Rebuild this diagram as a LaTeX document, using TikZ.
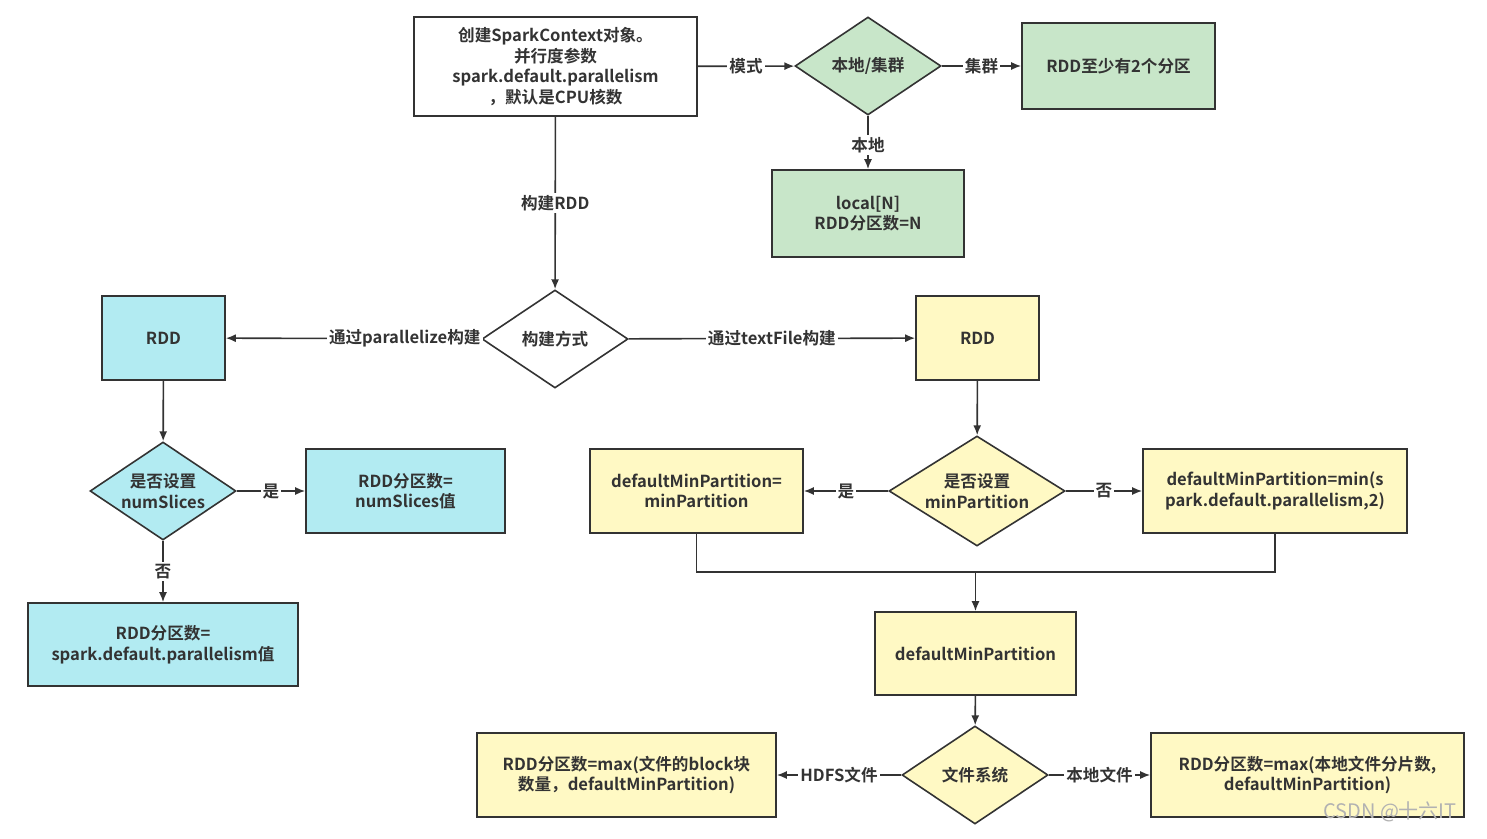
\documentclass[tikz,border=0pt]{standalone}
\usepackage{fontspec}
\setmainfont{Noto Sans CJK SC}[BoldFont={* Bold}]
\usetikzlibrary{shapes.geometric,arrows.meta}
\definecolor{gfill}{HTML}{C8E6C9}
\definecolor{cfill}{HTML}{B2EBF2}
\definecolor{yfill}{HTML}{FFF9C4}
\definecolor{ln}{HTML}{333333}
\begin{document}
\begin{tikzpicture}[x=0.5pt,y=-0.5pt,
  every node/.style={font=\fontsize{8.3}{10.3}\selectfont\bfseries, text=ln},
  box/.style={draw=ln, line width=0.8pt, rectangle, align=center, inner sep=0pt},
  dia/.style={draw=ln, line width=0.8pt, diamond, aspect=1.5, align=center, inner sep=-4pt},
  edge/.style={draw=ln, line width=0.8pt, -{Latex[length=5pt,width=4pt]}},
  lab/.style={fill=white, inner sep=1pt}]
\useasboundingbox (0,0) rectangle (1487,839);
\fill[white] (0,0) rectangle (1487,839);
% top
\node[box,fill=white,minimum width=141.5pt,minimum height=49.5pt] (top) at (555.5,66.5) {创建SparkContext对象。\\并行度参数\\spark.default.parallelism\\，默认是CPU核数};
\node[dia,fill=gfill,minimum width=73pt,minimum height=49pt] (mode) at (868,66) {本地/集群};
\node[box,fill=gfill,minimum width=96.5pt,minimum height=43pt] (clu) at (1118.5,66) {RDD至少有2个分区};
\node[box,fill=gfill,minimum width=96pt,minimum height=43.5pt] (loc) at (868,213.5) {local[N]\\RDD分区数=N};
% build
\node[dia,fill=white,minimum width=73pt,minimum height=49pt] (how) at (555,339) {构建方式};
\node[box,fill=cfill,minimum width=61.5pt,minimum height=42pt] (rddc) at (163.5,338) {RDD};
\node[box,fill=yfill,minimum width=61.5pt,minimum height=42pt] (rddy) at (977.5,338) {RDD};
% left
\node[dia,fill=cfill,minimum width=73pt,minimum height=49pt] (ns) at (163,491) {是否设置\\numSlices};
\node[box,fill=cfill,minimum width=99.5pt,minimum height=42pt] (nsv) at (405.5,491) {RDD分区数=\\numSlices值};
\node[box,fill=cfill,minimum width=135pt,minimum height=41.5pt] (nsd) at (163,644.5) {RDD分区数=\\spark.default.parallelism值};
% right
\node[dia,fill=yfill,minimum width=88pt,minimum height=55pt] (mp) at (977,491) {是否设置\\minPartition};
\node[box,fill=yfill,minimum width=106.5pt,minimum height=42pt] (mpv) at (696.5,491) {defaultMinPartition=\\minPartition};
\node[box,fill=yfill,minimum width=132pt,minimum height=42pt] (mpd) at (1275,491) {defaultMinPartition=min(s\\park.default.parallelism,2)};
\node[box,fill=yfill,minimum width=100.5pt,minimum height=41.5pt] (dmp) at (975.5,653.5) {defaultMinPartition};
\node[dia,fill=yfill,minimum width=73pt,minimum height=49pt] (fs) at (975,775) {文件系统};
\node[box,fill=yfill,minimum width=149.5pt,minimum height=42pt] (hdfs) at (626.5,775) {RDD分区数=max(文件的block块\\数量，defaultMinPartition)};
\node[box,fill=yfill,minimum width=156.5pt,minimum height=42pt] (lf) at (1307.5,775) {RDD分区数=max(本地文件分片数,\\defaultMinPartition)};
% edges
\draw[edge] (top) -- node[lab]{模式} (mode);
\draw[edge] (mode) -- node[lab]{集群} (clu);
\draw[edge] (mode) -- node[lab,pos=0.55]{本地} (loc);
\draw[edge] (top) -- node[lab]{构建RDD} (how);
\draw[edge] (how) -- node[lab,pos=0.3]{通过parallelize构建} (rddc);
\draw[edge] (how) -- node[lab,pos=0.5]{通过textFile构建} (rddy);
\draw[edge] (rddc) -- (ns);
\draw[edge] (ns) -- node[lab]{是} (nsv);
\draw[edge] (ns) -- node[lab]{否} (nsd);
\draw[edge] (rddy) -- (mp);
\draw[edge] (mp) -- node[lab]{是} (mpv);
\draw[edge] (mp) -- node[lab]{否} (mpd);
\coordinate (j) at (975.5,572);
\draw[ln,line width=0.8pt] (mpv.south) |- (j) -| (mpd.south);
\draw[edge] (j) -- (dmp);
\draw[edge] (dmp) -- (fs);
\draw[edge] (fs) -- node[lab]{HDFS文件} (hdfs);
\draw[edge] (fs) -- node[lab]{本地文件} (lf);
\node[text=gray!60, font=\fontsize{10}{12}\selectfont] (wm) at (1390,812) {CSDN @十六IT};
\end{tikzpicture}
\end{document}
